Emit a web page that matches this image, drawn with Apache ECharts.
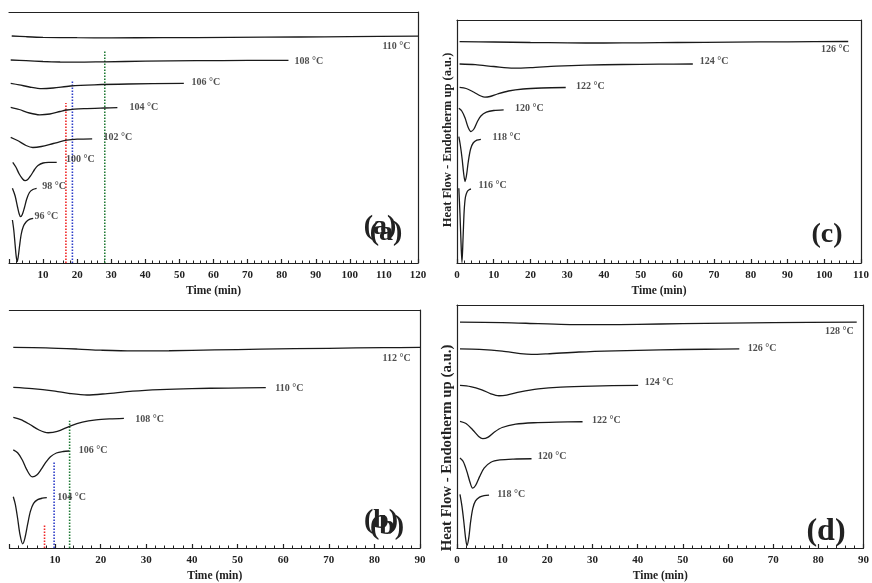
<!DOCTYPE html>
<html>
<head>
<meta charset="utf-8">
<script src="https://cdn.jsdelivr.net/npm/echarts@6/dist/echarts.min.js"></script>
<style>html,body{margin:0;padding:0;background:#fff;}#c{width:872px;height:583px;}</style>
</head>
<body>
<div id="c"></div>
<script>
// ---------- DATA (time in min, heat-flow in arbitrary units from panel bottom) ----------
// Panel (a)
const a110 = [[0.8,227],[5,226.3],[10,225.7],[20,225.3],[30,225.2],[45,225.3],[65,225.6],[85,226],[100,226.4],[120,226.8]];
const a108 = [[0.5,203],[5,202.3],[10,201.5],[15,201],[20,200.8],[28,201.2],[40,201.8],[55,202.3],[70,202.6],[82,202.7]];
const a106 = [[0.5,179.7],[3,178.2],[6,176],[9.6,174.3],[13,175],[18,177],[25,178.2],[35,179],[51.3,179.6]];
const a104 = [[0.5,155.7],[3,153.5],[6,150],[9,148.2],[12,149],[15,151.5],[17,153],[22,154.3],[28,155],[31.8,155.3]];
const a102 = [[0.5,125.7],[2.5,122.5],[5,117.5],[7,115.5],[9.5,116.5],[13,119.5],[17,122.8],[20,123.8],[24.4,124.2]];
const a100 = [[1.1,100.7],[2,96],[3,89],[4,84],[4.7,82.3],[5.5,83.5],[6.5,88],[7.5,93.5],[8.5,97.5],[10,100],[12,100.6],[14,100.7]];
const a98  = [[1,74.7],[1.8,67],[2.5,56],[3.0,49],[3.4,46.3],[3.9,48.5],[4.5,55],[5.2,64],[6,70.5],[7,73.5],[8.1,74.7]];
const a96  = [[1,43],[1.4,33],[1.8,18],[2.1,7],[2.4,1.3],[2.7,6],[3.1,17],[3.6,29],[4.2,36.5],[5,41],[6,43.7],[7.1,44.7]];
const aCurves = [a110,a108,a106,a104,a102,a100,a98,a96];
const aLabels = [[109.7,216,'110 °C'],[83.9,201,'108 °C'],[53.7,180,'106 °C'],[35.5,155,'104 °C'],[27.9,125.3,'102 °C'],[16.9,103,'100 °C'],[9.9,75.7,'98 °C'],[7.6,45.7,'96 °C']];
const aMarks = [[16.7,160,'red'],[18.6,183,'blue'],[28.1,213,'green']];

// Panel (b)
const b112 = [[0.85,202.3],[8,201.8],[15,200.6],[20,199.5],[27,198.7],[35,198.9],[45,199.7],[55,200.5],[70,201.4],[82,202],[90,202.3]];
const b110 = [[0.85,162],[5,160.8],[10,158.2],[13,156],[17,154.3],[21,155.5],[27,158.2],[33,159.8],[40,160.8],[48,161.3],[56.2,161.7]];
const b108 = [[0.85,131.7],[2.5,129.5],[4.5,124.5],[6.5,119],[8.5,116.2],[10.5,117.5],[13.3,123],[16,127],[19,129.3],[22,130.3],[25.1,130.8]];
const b106 = [[0.85,99],[1.8,96],[2.8,89],[3.8,79],[5,71.8],[6,73.5],[7,79.5],[8,86.5],[9,92],[10.3,95.8],[11.8,97.3],[13.1,97.8]];
const b104 = [[0.85,51.7],[1.3,44],[1.8,30],[2.3,14],[2.9,4.2],[3.4,10],[4,24],[4.6,37],[5.3,45],[6.2,48.8],[7.2,50.2],[8.2,50.7]];
const bCurves = [b112,b110,b108,b106,b104];
const bLabels = [[81.9,191,'112 °C'],[58.4,160.7,'110 °C'],[27.7,129.3,'108 °C'],[15.3,97.7,'106 °C'],[10.6,51,'104 °C']];
const bMarks = [[7.7,23.3,'red'],[9.8,86.7,'blue'],[13.2,128.3,'green']];

// Panel (c)
const c126 = [[0.7,221.3],[10,221],[20,220.5],[30,220.1],[40,220],[50,220.2],[60,220.5],[75,220.9],[90,221.2],[106.5,221.5]];
const c124 = [[0.7,199],[5,198.3],[10,196.5],[15.4,194.8],[20,195.3],[27,196.8],[35,197.9],[45,198.5],[55,198.8],[64.2,199]];
const c122 = [[0.7,175.7],[2.5,174.5],[4.5,171],[6.5,167],[7.6,165.8],[9,166.5],[11,169],[14,172],[18,174],[23,175],[29.6,175.5]];
const c120 = [[0.5,154.7],[1.3,152],[2.2,145],[3,136],[3.8,131.5],[4.6,134],[5.5,141],[6.5,147],[8,150.8],[10,152.5],[12.7,153.2]];
const c118 = [[0.5,126.3],[0.9,118],[1.4,104],[1.8,90],[2.2,81.5],[2.6,88],[3.1,102],[3.7,114],[4.4,120],[5.4,122.8],[6.5,123.7]];
const c116 = [[0.5,74.7],[0.8,50],[1.05,25],[1.35,0.5],[1.65,25],[1.95,52],[2.3,66],[2.8,71.5],[3.3,73.3],[3.8,74]];
const cCurves = [c126,c124,c122,c120,c118,c116];
const cLabels = [[99.2,213,'126 °C'],[66.2,201.3,'124 °C'],[32.5,176.3,'122 °C'],[15.9,154,'120 °C'],[9.8,124.7,'118 °C'],[6.0,77.3,'116 °C']];

// Panel (d)
const d128 = [[0.66,227.7],[10,227.3],[18,226.2],[25,225.3],[32,225.2],[40,225.5],[50,226.2],[60,226.8],[70,227.3],[88.5,227.7]];
const d126 = [[0.66,200.7],[5,200.2],[10,198.5],[14,196],[16.5,195.2],[20,195.8],[27,197.6],[35,198.8],[45,199.8],[55,200.4],[62.5,200.7]];
const d124 = [[0.66,164],[3,162.8],[5.5,159.5],[7.5,155.5],[9.3,153.5],[11,154.2],[14,157.5],[18,160.5],[23,162.3],[30,163.3],[40.1,164]];
const d122 = [[0.66,127.7],[2,125.5],[3.5,119],[4.8,112.5],[5.7,110.2],[6.8,111.5],[8.3,117],[10,121.5],[13,124.8],[17,126.3],[22,127],[27.8,127.3]];
const d120 = [[0.66,90.7],[1.4,87],[2.2,77],[2.9,66],[3.45,60.3],[4.1,63],[5,72],[6,80.5],[7.5,86.5],[9.5,88.8],[12.5,89.7],[16.5,90]];
const d118 = [[0.66,54],[1.1,42],[1.5,27],[1.9,10],[2.2,2.5],[2.6,10],[3,26],[3.5,40],[4.1,47.5],[5,51.3],[6,52.8],[7.1,53.3]];
const dCurves = [d128,d126,d124,d122,d120,d118];
const dLabels = [[81.6,217.7,'128 °C'],[64.5,201,'126 °C'],[41.7,166.7,'124 °C'],[30,128.3,'122 °C'],[18,91.7,'120 °C'],[9,54,'118 °C']];

const xTickLabel = 'Time (min)';
const yLabel = 'Heat Flow - Endotherm up (a.u.)';

// ---------- LAYOUT / STYLE ----------
const FONT = 'Liberation Serif';
const INK = '#222';
const markColors = {red:'#f02424', blue:'#2c3cc8', green:'#1f7a34'};
const panels = [
  {grid:{left:9,   top:12,  width:409, height:251}, xMax:120, yMax:251, leftLine:false, showMin:false, curves:aCurves, labels:aLabels, marks:aMarks},
  {grid:{left:9.4, top:310, width:410.6, height:240}, xMax:90, yMax:240, leftLine:false, showMin:false, curves:bCurves, labels:bLabels, marks:bMarks},
  {grid:{left:457, top:20,  width:408, height:243}, xMax:110, yMax:243, leftLine:true, showMin:true, curves:cCurves, labels:cLabels, marks:[]},
  {grid:{left:457, top:305, width:409, height:245}, xMax:90, yMax:245, leftLine:true, showMin:true, curves:dCurves, labels:dLabels, marks:[]}
];

const grid=[], xAxis=[], yAxis=[], series=[];
panels.forEach((p,i)=>{
  grid.push(p.grid);
  const lineStyle = {color:INK, width:1.2};
  xAxis.push({
    gridIndex:i, type:'value', min:0, max:p.xMax, interval:10, position:'bottom',
    axisLine:{show:true, onZero:false, lineStyle},
    axisTick:{show:true, inside:true, length:4, lineStyle},
    minorTick:{show:true, splitNumber:5, length:2.5, lineStyle:{color:INK, width:1}},
    splitLine:{show:false}, minorSplitLine:{show:false},
    axisLabel:{show:true, showMinLabel:p.showMin, fontFamily:FONT, fontWeight:'bold', fontSize:11, color:INK, margin:7},
    name:xTickLabel, nameLocation:'middle', nameGap:22,
    nameTextStyle:{fontFamily:FONT, fontWeight:'bold', fontSize:11.5, color:INK}
  });
  xAxis.push({
    gridIndex:i, type:'value', min:0, max:p.xMax, position:'top',
    axisLine:{show:true, onZero:false, lineStyle}, axisTick:{show:false}, axisLabel:{show:false}, splitLine:{show:false}
  });
  yAxis.push({
    gridIndex:i, type:'value', min:0, max:p.yMax, position:'left',
    axisLine:{show:p.leftLine, onZero:false, lineStyle}, axisTick:{show:false}, axisLabel:{show:false}, splitLine:{show:false}
  });
  yAxis.push({
    gridIndex:i, type:'value', min:0, max:p.yMax, position:'right',
    axisLine:{show:true, onZero:false, lineStyle}, axisTick:{show:false}, axisLabel:{show:false}, splitLine:{show:false}
  });
  p.curves.forEach(c=>{
    series.push({type:'line', xAxisIndex:i*2, yAxisIndex:i*2, data:c, smooth:0.3, symbol:'none',
      lineStyle:{color:'#1a1a1a', width:1.3}, silent:true, z:3});
  });
  p.marks.forEach(m=>{
    series.push({type:'line', xAxisIndex:i*2, yAxisIndex:i*2, data:[[m[0],0],[m[0],m[1]]], symbol:'none',
      lineStyle:{color:markColors[m[2]], width:1.6, type:[1.6,1.4]}, silent:true, z:2});
  });
  series.push({type:'scatter', xAxisIndex:i*2, yAxisIndex:i*2, data:p.labels, symbolSize:1,
    itemStyle:{color:'rgba(0,0,0,0)'}, silent:true, z:4,
    label:{show:true, position:[0,0], align:'left', verticalAlign:'middle', formatter:q=>q.data[2],
      fontFamily:FONT, fontWeight:'bold', fontSize:10, color:INK}});
});

const txt = (x,y,s,size,extra)=>Object.assign({type:'text', x, y, z:10,
  style:{text:s, fontFamily:FONT, fontWeight:'bold', fontSize:size, fill:INK, textAlign:'center', textVerticalAlign:'middle'}}, extra||{});

const graphic = [
  txt(380,227,'(a)',28), txt(386,233,'(a)',28),
  txt(381,521,'(b)',28), txt(387,527,'(b)',28),
  txt(827,235,'(c)',28),
  txt(826,532,'(d)',32),
  txt(447.5,140,yLabel,12.5,{rotation:Math.PI/2}),
  txt(447,448,yLabel,14.8,{rotation:Math.PI/2})
];

const chart = echarts.init(document.getElementById('c'), null, {renderer:'canvas'});
chart.setOption({animation:false, backgroundColor:'#fff', grid, xAxis, yAxis, series, graphic});
</script>
</body>
</html>
